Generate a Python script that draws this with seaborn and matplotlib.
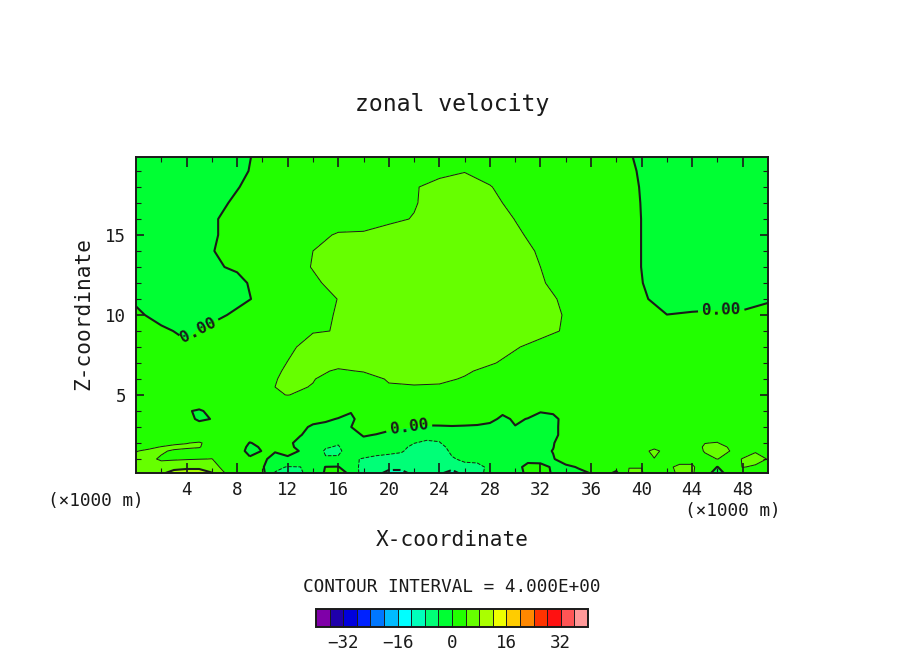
import matplotlib
matplotlib.use("Agg")
import matplotlib.pyplot as plt
import numpy as np
import seaborn as sns

TITLE = "zonal velocity"
XLABEL = "X-coordinate"
YLABEL = "Z-coordinate"
INTERVAL = "CONTOUR INTERVAL = 4.000E+00"
UNIT = "(\u00d71000 m)"
LEVELS = [-40, -36, -32, -28, -24, -20, -16, -12, -8, -4, 0, 4, 8, 12, 16, 20, 24, 28, 32, 36, 40]
COLORS = ["#7f00a8", "#1f00aa", "#0000dd", "#0022ff", "#0077ff", "#00bbff", "#00ffff", "#00ffbb", "#00ff77", "#00ff33",
          "#22ff00", "#66ff00", "#aaff00", "#eeff00", "#ffcc00", "#ff8800", "#ff3300", "#ff1111", "#ff5555", "#ff9999"]
BAR_TICKS = [-32, -16, 0, 16, 32]
BAR_LABELS = ["\u221232", "\u221216", "0", "16", "32"]
X_TICKS = [4, 8, 12, 16, 20, 24, 28, 32, 36, 40, 44, 48]
Z_TICKS = [5, 10, 15]

# upper part of the section
x_up = [0, 2, 4, 6, 8, 10, 12, 14, 16, 18, 20, 22, 24, 26, 28, 30, 32, 34, 36, 38, 40, 42, 44, 46, 48, 50]
z_up = [4.6, 5, 5.5, 6, 6.5, 7, 8, 9, 10, 11, 12, 13, 14, 15, 16, 17, 18, 19, 19.875]
u_up = [
 [2,2,2,2,2,2,2,2,2,2,2,2,2,2,2,2,2,2,2,2,2,2,2,2,2,2],
 [2,2,2,2,2.5,3.5,4.05,3.4,3,3,3,3,3,2.5,2,2,2,2,2,2,2,2,2,2,2,2],
 [2,2,2,2,2.5,3.6,4.4,3.9,3,3,3.85,3.8,3.7,3,2.5,2,2,2,2,2,2,2,2,2,2,2],
 [2,2,2,2,2.6,3.4,4.4,4.1,3.1,3.3,4.15,4.6,4.5,3.8,3,2.5,2,2,2,2,2,2,2,2,2,2],
 [2,2,2,2,2.6,3.2,4.25,4.4,3.8,4.1,4.3,5,5,4.35,3.35,2.8,2,2,2,2,2,2,2,2,2,2],
 [2,2,2,2,2.5,3,4.05,4.6,4.5,4.6,5,5.5,5.5,5,4.25,3.25,2.5,2,2,2,2,2,2,2,2,2],
 [1.5,1,.3,1,2,2.5,3.65,4.65,5,5.5,5.5,6,6,5.5,5,4.2,3.2,2.5,2,2,2,2,2,2,2,2],
 [1,.35,-.4,.6,1.5,2.5,3,3.9,4.05,5,5.5,6,6,6,5.5,5,4.75,3.75,2.5,2,1.5,1.2,1.2,1.2,1.2,1.2],
 [.35,-.65,-1,-.6,.4,1.5,2.5,3.2,4.2,5,5.5,6,6,6,6,5.5,4.85,3.85,2.5,1.5,.8,.02,.1,.2,.2,.4],
 [-.3,-1,-1,-1,-.55,.45,2,3,4.05,5,5.5,6,6,6,6,5.5,4.65,3.65,2.5,1.5,.25,-.7,-.4,-.47,-.47,-.13],
 [-2,-2,-2,-1,-.4,.6,2,3.65,4.65,5,5.5,6,6,6,6,5.5,4.2,3.2,2.5,.95,.05,-.95,-1.5,-2,-2,-1.5],
 [-2,-2,-2,-.2,.2,1.5,3.1,4.1,5,5.5,6,6,6,6,6,5,4,3,2,.95,-.02,-1,-2,-2,-2,-2],
 [-2,-2,-2,-.1,.9,1.5,3,4,5,5.5,6,6,6,6,5.5,5,3.7,2.5,2,.95,-.02,-1,-2,-2,-2,-2],
 [-2,-2,-2,-.25,.75,1.5,2.5,3.4,4.2,4.3,4.8,5.5,6,6,5.5,4.35,3.35,2.5,2,.95,-.02,-1,-2,-2,-2,-2],
 [-2,-2,-2,-.25,.75,1.5,2,2.5,3,3,3.6,4.1,5.5,6,5,3.95,3,2.5,2,.95,-.02,-1,-2,-2,-2,-2],
 [-2,-2,-1.5,-.65,.35,1.5,2,2,2.5,2.5,3,3.85,4.85,5.5,4.5,3.5,2.5,2,2,.95,-.05,-1,-2,-2,-2,-2],
 [-2,-2,-2,-1.5,-.1,.9,2,2,2,2,2.5,3.8,4.8,5.5,4.1,3.1,2,2,2,.9,-.1,-2,-2,-2,-2,-2],
 [-2,-2,-2,-2,-.45,.55,2,2,2,2,2,3,3.3,3.85,3.3,2.5,2,2,2,.8,-.2,-2,-2,-2,-2,-2],
 [-2,-2,-2,-2,-.55,.45,2,2,2,2,2,2,2,2,2,2,2,2,2,.65,-.35,-2,-2,-2,-2,-2],
]

# lower part of the section, read at a finer spacing
x_lo = [0,1,2,3,4,5,6,7,8,9,10,11,12,13,14,15,16,17,18,19,20,21,22,23,24,25,26,27,28,29,30,31,32,33,34,35,36,37,38,39,40,41,42,43,44,45,46,47,48,49,50]
z_lo = [0.125, 0.5, 1, 1.5, 1.75, 2, 2.5, 3, 3.5, 4, 4.6]
u_lo = [
 [5.5,5.5,7.5,9,9,9,8.2,4.1,1.5,1.5, 1,-4.2,-4.6,-4.3,-3,.5,1.2,-.6,-6,-7, -9,-9,-7,-7,-7.5,-9,-7,-5,-3,-2, -1,.5,.8,-.2,-.5,-.3,.05,1,-.5,4.2, 4.2,2.5,3,4.5,4.5,1,-1,1,2.5,2.5,2.5],
 [5,5,5,7,7.5,7.5,5.5,3,1.5,1.5, .4,-3.2,-4.2,-4.05,-2,.1,.2,-2.5,-5,-6, -7,-7,-6.5,-6,-6,-7,-4.6,-4.4,-3.7,-2.5, -.6,.5,.5,-.2,-.3,.1,.6,1,1,3.95, 3.95,2.5,3.5,4.5,4.5,2,-.1,2.5,4.1,3.7,3],
 [4.6,4.5,3.7,3.5,3.7,3.9,4.05,3,2,.5, .3,-.5,-.2,-.8,-2.5,-3.8,-3.7,-3.6,-4.2,-4.7, -4.7,-4.4,-5,-6,-5.5,-4.2,-3.6,-3.6,-3,-2, -1.5,-.5,-.6,-.1,.7,1,1.2,1.5,1.5,1.5, 2,3.8,2.5,3,3,3.3,4.05,3.2,4.1,4.8,3.9],
 [3.9,4.4,4.3,3.7,3.2,3,2.5,2,1.5,-1, .1,.1,.35,-.05,-2.5,-4.3,-4.4,-3,-2.5,-3, -3.5,-3.9,-4.4,-5,-5,-3.6,-3,-2.5,-2,-1.5, -1,-1,-.4,.05,1,1.5,2,2,2,2, 2,5.5,2,2,2.5,4.2,6,3.95,3,3.8,3.5],
 [2.5,3.5,4.1,4.6,4.5,4.2,2.5,2,1.5,-.6, .3,1.2,.4,-.4,-2,-3.8,-4.2,-2.5,-2,-2.5, -3.2,-3.5,-4.5,-5,-4.8,-3.2,-2.5,-2,-1.5,-1.2, -1,-1,-1,-.05,1,1.5,2,2,2,2, 2,2.5,2,2,2.8,4.3,5,3.7,2.8,2.7,2.7],
 [2,2.5,3,3.5,3.9,4.3,3,2,1.5,-.1, .5,1.5,.5,-.7,-1.5,-3.2,-3.8,-2,-.4,-1.5, -2,-3,-3.95,-4.4,-4.2,-2.5,-2,-1.5,-1,-1, -1,-1,-1,-.1,.9,1.5,2,2,2,2, 2,2,2,2,2.5,3.95,4.1,3,2.5,2.5,2.5],
 [2,2,2,2,2,1.5,1.5,2,2,1.2, 1.5,2,1.5,.1,-.8,-1,-1,-.5,.1,-.05, -.3,-1.2,-2,-3.2,-3,-2.5,-1.5,-1,-1,-1, -1,-1,-1,-.3,.45,1.5,2,2,2,2, 2,2,2,2,2,2.5,3,2.5,2,2,2],
 [2,2,2,2,1.5,.8,.8,1.5,2,2, 2,2,2,.6,-.4,-.5,-.6,-.02,.6,.5, .3,.2,-.05,-.2,-.15,-.1,-.15,-.2,-.4,-.7, -.05,-.5,-1,-.3,.45,1.5,2,2,2,2, 2,2,2,2,2,2,2,2,2,2,2],
 [2,2,2,1.5,.6,-.3,.05,1,2,2, 2,2,2,1.5,.8,.3,-.1,-.3,.7,1.5, 1.5,1.5,1,.8,.7,.7,.7,.6,.4,-.3, .2,-.05,-.5,-.3,.4,1.5,2,2,2,2, 2,2,2,2,2,2,2,2,2,2,2],
 [2,2,2,1.5,.3,-.4,.8,1.5,2,2, 2,2,2,2,1.5,1.5,.8,.1,.6,1.5, 2,2,2,1.5,1.5,1.5,1.5,1.5,1.2,.3, .6,.5,.1,.2,.8,1.5,2,2,2,2, 2,2,2,2,2,2,2,2,2,2,2],
 [2,2,2,2,2,2,2,2,2,2, 2,2,2,2,2,2,2,2,2,2, 2,2,2,2,2,2,2,2,2,2, 2,2,2,2,2,2,2,2,2,2, 2,2,2,2,2,2,2,2,2,2,2],
]

W, H = 904, 654
sns.set_theme(style="white", rc={"contour.negative_linestyle": "dashed", "axes.axisbelow": False})
plt.rcParams["font.family"] = ["DejaVu Sans Mono"]
cmap = matplotlib.colors.ListedColormap(sns.color_palette(COLORS))

fig = plt.figure(figsize=(W / 100, H / 100), dpi=100, facecolor="white")
ax = fig.add_axes([136 / W, 1 - 473 / H, 632 / W, 316 / H])

thick = [-8, 8]
thin = [l for l in LEVELS if l not in thick and l != 0]
cf = None
zero_sets = []
for xs, zs, us in ((x_up, z_up, u_up), (x_lo, z_lo, u_lo)):
    X, Z = np.meshgrid(xs, zs)
    U = np.array(us, dtype=float)
    cf = ax.contourf(X, Z, U, levels=LEVELS, cmap=cmap)
    ax.contour(X, Z, U, levels=thin, colors="k", linewidths=0.7)
    ax.contour(X, Z, U, levels=thick, colors="k", linewidths=1.5)
    zero_sets.append(ax.contour(X, Z, U, levels=[0], colors="k", linewidths=1.5))

labels = []
labels += ax.clabel(zero_sets[0], fmt="%.2f", fontsize=11.5, inline=True, inline_spacing=4,
                    manual=[(4.9, 9.0), (46.3, 10.3)])
labels += ax.clabel(zero_sets[1], fmt="%.2f", fontsize=11.5, inline=True, inline_spacing=4,
                    manual=[(21.6, 3.0)])
for t in labels:
    t.set_fontweight("bold")
    t.set_color("k")

ax.set_xlim(0, 50)
ax.set_ylim(0.125, 19.875)
ax.set_xticks(X_TICKS)
ax.set_xticks(range(2, 50, 4), minor=True)
ax.set_yticks(Z_TICKS)
ax.set_yticks(range(1, 20), minor=True)
ax.tick_params(axis="x", which="major", direction="in", top=True, bottom=True,
               length=7, width=1.2, labelsize=12.6, colors="k", pad=6)
ax.tick_params(axis="y", which="major", direction="in", left=True, right=True,
               length=6, width=1.2, labelsize=12.6, colors="k", pad=7)
ax.tick_params(which="minor", direction="in", top=True, right=True, bottom=True, left=True,
               length=3.5, width=0.8, colors="k")
for s in ax.spines.values():
    s.set_visible(True)
    s.set_color("k")
    s.set_linewidth(1.4)
ax.grid(False)


def put(px, py, text, size, **kw):
    fig.text(px / W, 1 - py / H, text, fontsize=size, ha="center", va="center", color="k", **kw)


put(452, 104, TITLE, 16.7)
put(452, 540, XLABEL, 15.2)
put(83, 314, YLABEL, 15.2, rotation=90)
put(96, 501, UNIT, 12.8)
put(733, 511, UNIT, 12.8)
put(452, 587, INTERVAL, 12.7)

cax = fig.add_axes([316 / W, 1 - 627 / H, 272 / W, 18 / H])
cb = fig.colorbar(cf, cax=cax, orientation="horizontal", ticks=BAR_TICKS, drawedges=True)
cb.ax.set_xticklabels(BAR_LABELS)
cb.ax.tick_params(length=0, labelsize=12.6, pad=5, colors="k")
cb.outline.set_edgecolor("k")
cb.outline.set_linewidth(1.4)
cb.dividers.set_color("k")
cb.dividers.set_linewidth(0.7)

fig.savefig("out.png", dpi=100, facecolor="white")
